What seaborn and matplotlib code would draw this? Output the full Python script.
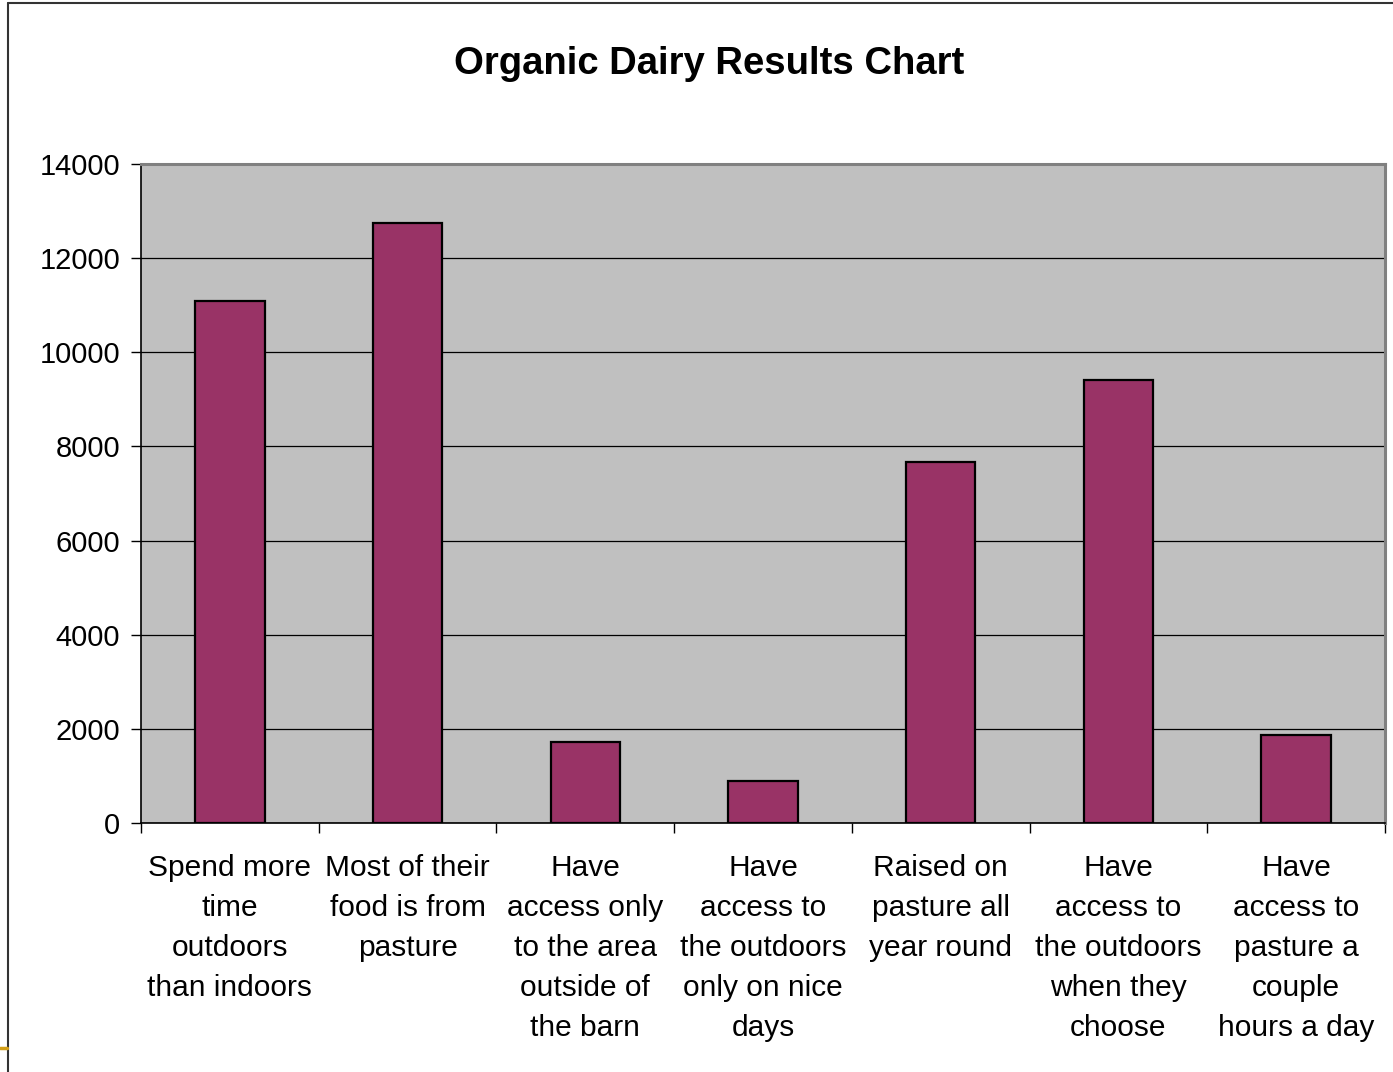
import matplotlib
matplotlib.use("Agg")
import matplotlib.pyplot as plt
import seaborn as sns
import pandas as pd
from matplotlib.lines import Line2D

categories = [
    "Spend more\ntime\noutdoors\nthan indoors",
    "Most of their\nfood is from\npasture",
    "Have\naccess only\nto the area\noutside of\nthe barn",
    "Have\naccess to\nthe outdoors\nonly on nice\ndays",
    "Raised on\npasture all\nyear round",
    "Have\naccess to\nthe outdoors\nwhen they\nchoose",
    "Have\naccess to\npasture a\ncouple\nhours a day",
]
values = [11100, 12750, 1720, 890, 7670, 9410, 1870]
y_ticks = [0, 2000, 4000, 6000, 8000, 10000, 12000, 14000]
title = "Organic Dairy Results Chart"

sns.set_theme(style="white")
plt.rcParams['font.family'] = ['Liberation Sans', 'DejaVu Sans']
plt.rcParams['text.color'] = 'black'
plt.rcParams['xtick.color'] = 'black'
plt.rcParams['ytick.color'] = 'black'
plt.rcParams['xtick.labelcolor'] = 'black'
plt.rcParams['ytick.labelcolor'] = 'black'

W, H = 1393, 1072
fig = plt.figure(figsize=(W / 100, H / 100), dpi=100)
ax = fig.add_axes([141 / W, 1 - 823 / H, (1385 - 141) / W, (823 - 164) / H])

df = pd.DataFrame({"cat": categories, "val": values})
sns.barplot(data=df, x="cat", y="val", color="#993366", edgecolor="black",
            linewidth=1.6, width=0.39, saturation=1, ax=ax, zorder=3)
for p in ax.patches:
    p.set_zorder(3)

ax.set_facecolor("#C0C0C0")
ax.set_xlim(-0.5, len(categories) - 0.5)
ax.set_ylim(0, 14000)
ax.set_yticks(y_ticks)
ax.set_yticklabels([str(v) for v in y_ticks], fontsize=21, color="black")
ax.yaxis.grid(True, color="black", linewidth=0.9, zorder=1)
ax.set_axisbelow(True)
ax.set_xlabel("")
ax.set_ylabel("")

ax.set_xticks(range(len(categories)))
ax.set_xticklabels(categories, fontsize=21.5, linespacing=1.55, color="black")
ax.set_xticks([i - 0.5 for i in range(len(categories) + 1)], minor=True)
ax.tick_params(axis="x", which="major", length=0, pad=22)
ax.tick_params(axis="x", which="minor", length=7, width=1, color="black", bottom=True)
ax.tick_params(axis="y", which="major", length=7, width=1, color="black", left=True, pad=8)

for s in ["left", "bottom"]:
    ax.spines[s].set_color("black")
    ax.spines[s].set_linewidth(1.2)
for s in ["top", "right"]:
    ax.spines[s].set_color("#808080")
    ax.spines[s].set_linewidth(2.2)

fig.text(709 / W, 1 - 64 / H, title, ha="center", va="center",
         fontsize=27.5, fontweight="bold", color="black")

# outer frame
fig.add_artist(Line2D([8 / W, 8 / W], [0, 1 - 3 / H], color="#333333", lw=1.5))
fig.add_artist(Line2D([8 / W, 1], [1 - 3 / H, 1 - 3 / H], color="#333333", lw=1.5))
fig.add_artist(Line2D([0, 7 / W], [1 - 1048 / H, 1 - 1048 / H], color="#D4A017", lw=2.5))

fig.savefig("out.png", dpi=100, facecolor="white")
